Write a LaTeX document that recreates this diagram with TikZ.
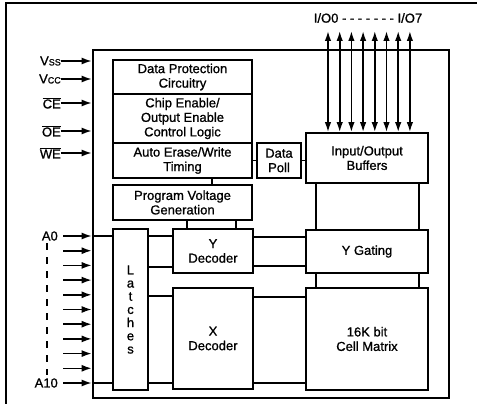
\documentclass[tikz,border=0pt]{standalone}
\usepackage{fontspec}
\setmainfont[FakeBold=1]{Liberation Sans}
\usetikzlibrary{arrows.meta,calc}
\begin{document}
\begin{tikzpicture}[x=1pt,y=-1pt,
  txt/.style={font=\fontsize{13}{14.5}\selectfont},
  box/.style={draw, line width=1.8pt, inner sep=0pt, align=center, txt},
  chipbox/.style={draw, line width=2.6pt, inner sep=0pt},
  conn/.style={line width=1.6pt},
  arr/.style={line width=1.6pt, -{Latex[length=10pt,width=7pt]}},
  biarr/.style={line width=1.6pt, {Latex[length=10pt,width=6.5pt]}-{Latex[length=10pt,width=6.5pt]}},
  lbl/.style={txt, inner sep=0pt}]
\useasboundingbox (0,0) rectangle (477,404);
% outer frame (cropped)
\draw[line width=1.8pt] (6,404) -- (6,3) -- (477,3);
% chip
\node[chipbox, minimum width=356pt, minimum height=348pt] (chip) at (271,224) {};
% control stack
\node[box, minimum width=139pt, minimum height=34pt] (dp) at (182.5,77) {Data Protection\\Circuitry};
\node[box, minimum width=139pt, minimum height=49pt] (ce) at (182.5,118.5) {Chip Enable/\\Output Enable\\Control Logic};
\node[box, minimum width=139pt, minimum height=35pt] (ae) at (182.5,160.5) {Auto Erase/Write\\Timing};
\node[box, minimum width=139pt, minimum height=35pt] (pvg) at (182.5,202.5) {Program Voltage\\Generation};
\node[box, minimum width=44pt, minimum height=35pt] (poll) at (279,160.5) {Data\\Poll};
\node[box, minimum width=122pt, minimum height=50pt] (iob) at (367,158) {Input/Output\\Buffers};
\node[box, minimum width=122pt, minimum height=43pt] (yg) at (367,251.5) {Y Gating};
\node[box, minimum width=122pt, minimum height=102pt] (cm) at (367,339) {16K bit\\Cell Matrix};
\node[box, minimum width=80pt, minimum height=44pt] (yd) at (213,251) {Y\\Decoder};
\node[box, minimum width=80pt, minimum height=101pt] (xd) at (213,338.5) {X\\Decoder};
\node[box, minimum width=35pt, minimum height=161pt, font=\fontsize{13}{13.2}\selectfont] (latch) at (130.5,309.5) {L\\a\\t\\c\\h\\e\\s};
% internal connectors
\draw[conn] (212,0 |- ae.south) -- (212,0 |- pvg.north);
\draw[conn] (187,0 |- pvg.south) -- (187,0 |- yd.north);
\draw[conn] (236,0 |- pvg.south) -- (236,0 |- yd.north);
\draw[conn] (ae.east) -- (poll.west);
\draw[conn] (poll.east) -- (0,160.5 -| iob.west);
\foreach \xx in {316,419}{
  \draw[conn] (\xx,0 |- iob.south) -- (\xx,0 |- yg.north);
  \draw[conn] (\xx,0 |- yg.south) -- (\xx,0 |- cm.north);
}
\foreach \yy in {237,266}{
  \draw[conn] (yd.east |- 0,\yy) -- (yg.west |- 0,\yy);
}
\foreach \yy in {236,267}{
  \draw[conn] (latch.east |- 0,\yy) -- (yd.west |- 0,\yy);
}
\foreach \yy in {296,383}{
  \draw[conn] (latch.east |- 0,\yy) -- (xd.west |- 0,\yy);
}
\foreach \yy in {297,383}{
  \draw[conn] (xd.east |- 0,\yy) -- (cm.west |- 0,\yy);
}
% control signals
\node[lbl, anchor=east] (vss) at (61,61) {V{\fontsize{9}{9}\selectfont SS}};
\node[lbl, anchor=east] (vcc) at (61,79) {V{\fontsize{9}{9}\selectfont CC}};
\node[lbl, anchor=east] (nce) at (61,103) {$\overline{\mbox{CE}}$};
\node[lbl, anchor=east] (noe) at (61,131) {$\overline{\mbox{OE}}$};
\node[lbl, anchor=east] (nwe) at (61,153) {$\overline{\mbox{WE}}$};
\foreach \n in {vss,vcc,nce,noe,nwe}{
  \draw[arr] (\n.east) -- (\n.east -| chip.west);
}
% address lines
\node[lbl, anchor=east] (a0) at (58,236) {A0};
\node[lbl, anchor=east] (a10) at (58,383) {A10};
\foreach \yy [count=\i] in {236,250.7,265.4,280.1,294.8,309.5,324.2,338.9,353.6,368.3,383}{
  \coordinate (ad\i) at (63,\yy);
  \draw[arr] (ad\i) -- (ad\i -| chip.west);
}
\draw[conn] (ad1 -| chip.west) -- (ad1 -| latch.west);
\draw[conn] (ad11 -| chip.west) -- (ad11 -| latch.west);
\draw[line width=2.6pt, dash pattern=on 7pt off 7pt] (47,243) -- (47,375);
% I/O lines
\node[lbl] (iolbl) at (368,18) {I/O0 - - - - - - - I/O7};
\foreach \i in {0,...,7}{
  \coordinate (io\i) at ({328+\i*11.7},31);
  \draw[biarr] (io\i) -- (io\i |- iob.north);
}
\end{tikzpicture}
\end{document}
